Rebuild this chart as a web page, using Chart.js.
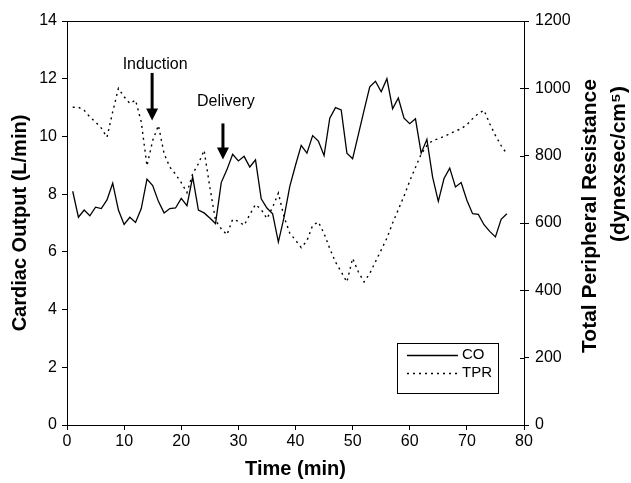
<!DOCTYPE html>
<html>
<head>
<meta charset="utf-8">
<script src="https://cdn.jsdelivr.net/npm/chart.js@4.4.0/dist/chart.umd.min.js"></script>
<style>
html,body{margin:0;padding:0;background:#fff}
#wrap{width:631px;height:483px}
</style>
</head>
<body>
<div id="wrap"><canvas id="chart" width="631" height="483"></canvas></div>
<script>
// time axis (min)
const minutes=[1,2,3,4,5,6,7,8,9,10,11,12,13,14,15,16,17,18,19,20,21,22,23,24,25,26,27,28,29,30,31,32,33,34,35,36,37,38,39,40,41,42,43,44,45,46,47,48,49,50,51,52,53,54,55,56,57,58,59,60,61,62,63,64,65,66,67,68,69,70,71,72,73,74,75,76,77];
// cardiac output, L/min
const coValues=[8.1,7.2,7.45,7.25,7.55,7.5,7.8,8.38,7.45,6.95,7.2,7.02,7.5,8.52,8.3,7.75,7.35,7.5,7.52,7.85,7.6,8.6,7.45,7.35,7.17,6.98,8.4,8.85,9.38,9.15,9.31,8.94,9.19,7.84,7.52,7.32,6.34,7.2,8.27,9.0,9.69,9.42,10.03,9.84,9.34,10.63,11.0,10.92,9.42,9.23,10.06,10.9,11.72,11.91,11.55,12.0,10.96,11.33,10.63,10.44,10.61,9.42,9.9,8.59,7.75,8.54,8.9,8.25,8.4,7.79,7.32,7.3,6.94,6.71,6.52,7.13,7.32];
// total peripheral resistance
const tprValues=[944,944,935,915,900,882,855,930,1000,975,955,965,900,770,845,890,806,766,745,720,690,746,776,816,707,608,583,565,611,605,593,625,655,640,613,647,689,618,570,549,527,547,593,603,569,524,484,455,425,495,455,425,450,485,520,555,600,640,680,725,765,805,830,845,850,857,865,873,880,892,910,925,935,895,860,830,805];
const xTicks=[0,10,20,30,40,50,60,70,80];
const coTicks=[0,2,4,6,8,10,12,14];
const tprTicks=[0,200,400,600,800,1000,1200];
// event markers: [label, minute, arrow top, arrow tip, label y] in CO units
const events=[["Induction",14.9,12.2,10.55,12.5],["Delivery",27.3,10.45,9.2,11.2]];

const FONT="'Liberation Sans', Arial, sans-serif";
Chart.defaults.font.family=FONT;
Chart.defaults.color="#000";

const arrowPlugin={id:"arrows",afterDatasetsDraw(c){
  const ctx=c.ctx,x=c.scales.x,y=c.scales.y;
  ctx.save();ctx.fillStyle="#000";ctx.strokeStyle="#000";
  ctx.font="16px "+FONT;ctx.textAlign="center";ctx.textBaseline="middle";
  events.forEach(([txt,t,top,tip,ly])=>{
    const px=x.getPixelForValue(t),py0=y.getPixelForValue(top),py1=y.getPixelForValue(tip);
    ctx.fillText(txt,px+3,y.getPixelForValue(ly));
    ctx.lineWidth=3;ctx.beginPath();ctx.moveTo(px,py0);ctx.lineTo(px,py1-10);ctx.stroke();
    ctx.beginPath();ctx.moveTo(px-6,py1-12);ctx.lineTo(px+6,py1-12);ctx.lineTo(px,py1);ctx.closePath();ctx.fill();
  });
  ctx.restore();
}};

const framePlugin={id:"frame",afterDraw(c){
  const ctx=c.ctx,a=c.chartArea;
  ctx.save();ctx.strokeStyle="#000";ctx.lineWidth=1;
  ctx.strokeRect(a.left+0.5,a.top+0.5,a.right-a.left,a.bottom-a.top);
  // right axis ticks cross the axis line
  c.scales.y2.ticks.forEach(t=>{
    const py=Math.round(c.scales.y2.getPixelForValue(t.value))+0.5;
    ctx.beginPath();ctx.moveTo(a.right-4,py);ctx.lineTo(a.right,py);ctx.stroke();
  });
  // legend box
  const bx=a.right-127,by=a.bottom-82,bw=101,bh=50;
  ctx.strokeRect(bx+0.5,by+0.5,bw,bh);
  ctx.font="15px "+FONT;ctx.textBaseline="middle";ctx.textAlign="left";ctx.fillStyle="#000";
  c.data.datasets.forEach((d,i)=>{
    const ly=by+12+i*18;
    ctx.setLineDash(d.borderDash||[]);ctx.lineWidth=d.borderWidth;
    ctx.beginPath();ctx.moveTo(bx+10,ly+0.5);ctx.lineTo(bx+61,ly+0.5);ctx.stroke();
    ctx.setLineDash([]);
    ctx.fillText(d.label,bx+65,ly);
  });
  // right axis title, reading bottom to top
  ctx.font="bold 21px "+FONT;ctx.textAlign="center";
  ctx.translate(590,216);ctx.rotate(-Math.PI/2);
  ctx.fillText("Total Peripheral Resistance",0,0);
  ctx.fillText("(dynexsec/cm\u2075)",52,29);
  ctx.restore();
}};

new Chart(document.getElementById("chart"),{
  type:"line",
  data:{labels:minutes,datasets:[
    {label:"CO",data:coValues,yAxisID:"y",borderColor:"#000",borderWidth:1.3,pointRadius:0,tension:0},
    {label:"TPR",data:tprValues,yAxisID:"y2",borderColor:"#000",borderWidth:1.4,borderDash:[2,4],pointRadius:0,tension:0}
  ]},
  options:{
    responsive:false,animation:false,
    layout:{padding:{top:21,left:0,right:0,bottom:0}},
    plugins:{legend:{display:false},tooltip:{enabled:false}},
    scales:{
      x:{type:"linear",min:0,max:80,
        afterBuildTicks:s=>{s.ticks=xTicks.map(v=>({value:v}))},
        afterFit:s=>{s.height=58},
        border:{color:"#000"},
        grid:{drawOnChartArea:false,tickLength:5,color:"#000"},
        ticks:{font:{size:16},padding:2,maxRotation:0},
        title:{display:true,text:"Time (min)",font:{size:20,weight:"bold"},padding:{bottom:2}}},
      y:{position:"left",min:0,max:14,
        afterBuildTicks:s=>{s.ticks=coTicks.map(v=>({value:v}))},
        afterFit:s=>{s.width=67},
        border:{color:"#000"},
        grid:{drawOnChartArea:false,tickLength:5,color:"#000"},
        ticks:{font:{size:16},padding:5},
        title:{display:true,text:"Cardiac Output (L/min)",font:{size:20,weight:"bold"},padding:{top:8}}},
      y2:{position:"right",min:0,max:1200,
        afterBuildTicks:s=>{s.ticks=tprTicks.map(v=>({value:v}))},
        afterFit:s=>{s.width=107},
        border:{color:"#000"},
        grid:{drawOnChartArea:false,tickLength:5,color:"#000"},
        ticks:{font:{size:16},padding:6,callback:v=>String(v)}}
    }
  },
  plugins:[arrowPlugin,framePlugin]
});
</script>
</body>
</html>
